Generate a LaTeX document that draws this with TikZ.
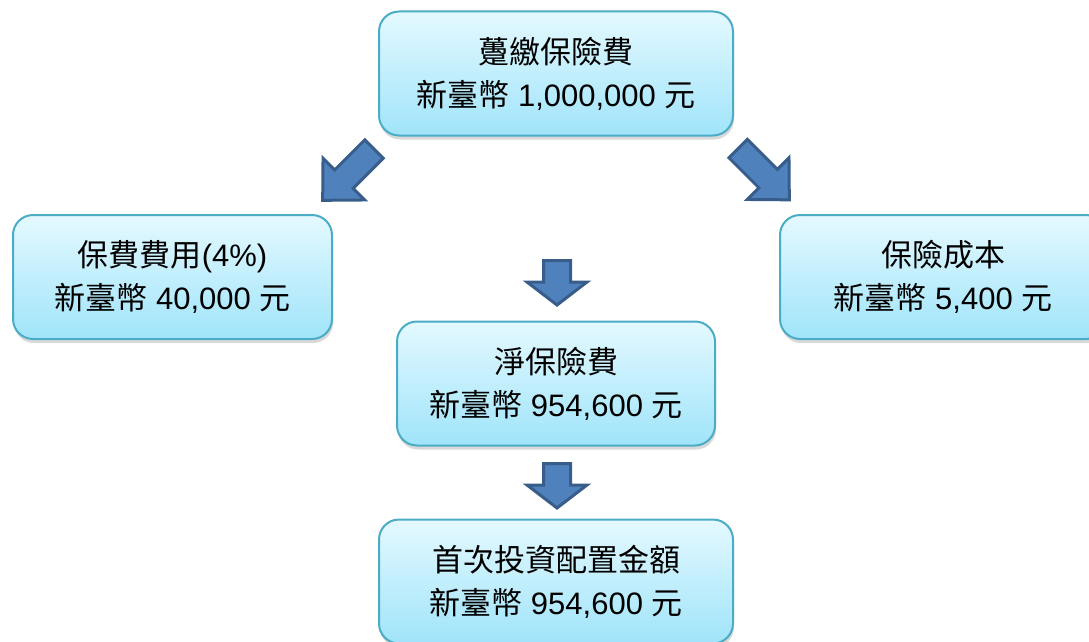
\documentclass[tikz,border=0pt]{standalone}
\usepackage{fontspec}
\setmainfont{Liberation Sans}
\newfontfamily\cjk{Noto Sans CJK TC}
\usetikzlibrary{shadows}
\definecolor{boxtop}{RGB}{228,249,255}
\definecolor{boxbot}{RGB}{160,228,250}
\definecolor{boxline}{RGB}{75,172,198}
\definecolor{arrfill}{RGB}{79,129,189}
\definecolor{arrline}{RGB}{56,93,138}
\tikzset{
  box/.style={rectangle, rounded corners=20pt, draw=boxline, line width=2pt,
    top color=boxtop, bottom color=boxbot, minimum height=124pt,
    align=center, font=\fontsize{31}{43}\selectfont, inner sep=0pt,
    drop shadow={shadow xshift=1pt, shadow yshift=-4pt, opacity=0.25, fill=black!60}},
  blk/.style={fill=arrfill, draw=arrline, line width=3pt, line join=miter},
  diagarrow/.pic={\draw[blk] (1.5,-13) -- (44,-13) -- (44,-29.5) -- (74,0) -- (44,29.5) -- (44,13) -- (1.5,13) -- cycle;},
  downarrow/.pic={\draw[blk] (1.5,-13.5) -- (23,-13.5) -- (23,-30) -- (46,0) -- (23,30) -- (23,13.5) -- (1.5,13.5) -- cycle;}
}
\begin{document}
\begin{tikzpicture}[x=1pt,y=1pt]
\useasboundingbox (0,0) rectangle (1089,-642);
\clip (0,0) rectangle (1089,-642);
\node[box, minimum width=354pt] (top) at (556,-73.5) {{\cjk 躉繳保險費}\\{\cjk 新臺幣} 1,000,000 {\cjk 元}};
\node[box, minimum width=319pt] (left) at (172.5,-277) {{\cjk 保費費用}(4\%)\\{\cjk 新臺幣} 40,000 {\cjk 元}};
\node[box, minimum width=326pt] (right) at (943,-277) {{\cjk 保險成本}\\{\cjk 新臺幣} 5,400 {\cjk 元}};
\node[box, minimum width=318pt] (mid) at (556,-383.5) {{\cjk 淨保險費}\\{\cjk 新臺幣} 954,600 {\cjk 元}};
\node[box, minimum width=354pt] (bot) at (556,-581.5) {{\cjk 首次投資配置金額}\\{\cjk 新臺幣} 954,600 {\cjk 元}};
\pic[rotate=-135] at (375,-148) {diagarrow};
\pic[rotate=-45] at (737,-147.5) {diagarrow};
\pic[rotate=-90] at (557,-259) {downarrow};
\pic[rotate=-90] at (557,-462) {downarrow};
\end{tikzpicture}
\end{document}
